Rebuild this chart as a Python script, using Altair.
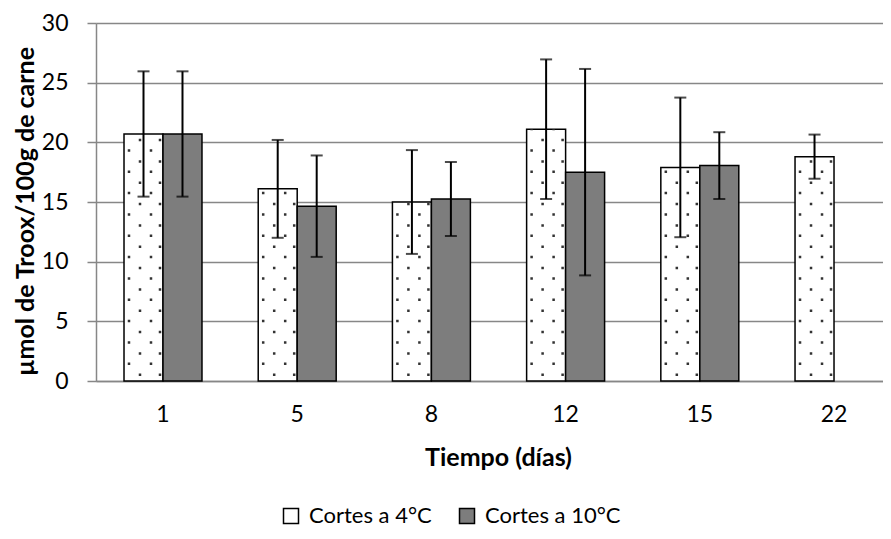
import altair as alt
import pandas as pd

days = ["1", "5", "8", "12", "15", "22"]
series = ["Cortes a 4°C", "Cortes a 10°C"]
mean_4 = [20.7, 16.1, 15.0, 21.1, 17.9, 18.8]
sd_4 = [5.25, 4.1, 4.35, 5.85, 5.85, 1.85]
mean_10 = [20.7, 14.65, 15.25, 17.5, 18.05, None]
sd_10 = [5.25, 4.25, 3.1, 8.65, 2.8, None]

rows = []
for d, m, s in zip(days, mean_4, sd_4):
    rows.append({"day": d, "serie": series[0], "v": m, "lo": m - s, "hi": m + s, "zero": 0})
for d, m, s in zip(days, mean_10, sd_10):
    if m is not None:
        rows.append({"day": d, "serie": series[1], "v": m, "lo": m - s, "hi": m + s, "zero": 0})
df = pd.DataFrame(rows)

FONT = "Lato"
GRID = "#878787"

x_enc = alt.X(
    "day:N", sort=days,
    scale=alt.Scale(paddingInner=0.419, paddingOuter=0.1416, align=0.737),
    axis=alt.Axis(
        title="Tiempo (días)", labelAngle=0, ticks=False, tickSize=0,
        labelPadding=22, labelFontSize=23, labelFont=FONT, labelColor="black",
        titleFont=FONT, titleFontSize=25, titleFontWeight="bold", titleColor="black",
        titleX=402, titleY=76, titleBaseline="middle",
        domainColor=GRID, domainWidth=1.5, grid=False,
    ),
)
xoff = alt.XOffset("serie:N", sort=series,
                   scale=alt.Scale(domain=series, paddingInner=0, paddingOuter=0))
y_scale = alt.Scale(domain=[0, 30], nice=False)

base = alt.Chart(df)

bars = base.mark_bar(stroke="black", strokeWidth=1.5).encode(
    x=x_enc,
    xOffset=xoff,
    y=alt.Y(
        "v:Q", scale=y_scale,
        axis=alt.Axis(
            title="µmol de Troox/100g de carne", values=[0, 5, 10, 15, 20, 25, 30],
            labelFontSize=23, labelFont=FONT, labelColor="black", labelPadding=19,
            tickSize=9, tickColor=GRID, tickWidth=1.5,
            domainColor=GRID, domainWidth=1.5,
            grid=True, gridColor=GRID, gridWidth=1.5,
            titleFont=FONT, titleFontSize=25, titleFontWeight="bold", titleColor="black",
            titleX=-71, titleY=188, titleBaseline="middle",
        ),
    ),
    fill=alt.Fill(
        "serie:N", sort=series,
        scale=alt.Scale(domain=series, range=["white", "#7d7d7d"]),
        legend=alt.Legend(
            orient="none", legendX=184, legendY=482, direction="horizontal",
            title=None, symbolType="square", symbolSize=225,
            symbolStrokeColor="black", symbolStrokeWidth=1.5,
            labelFont=FONT, labelFontSize=22, labelColor="black",
            labelOffset=7, columnPadding=24, padding=0,
        ),
    ),
)

# dotted texture of the 4°C bars
period = 21.33
dots = []
for dx, phase in [(-34, 5.33), (-12, 5.33), (-23, 16.33), (-3, 16.33)]:
    dots.append(
        base.transform_filter(alt.datum.serie == series[0]).mark_rule(
            xOffset=dx, strokeDash=[2.5, period - 2.5], strokeDashOffset=phase,
            strokeWidth=2.5, color="#333333", strokeCap="butt",
        ).encode(
            x=alt.X("day:N", sort=days),
            y=alt.Y("zero:Q", scale=y_scale),
            y2="v:Q",
        )
    )

err = base.mark_rule(color="black", strokeWidth=2).encode(
    x=alt.X("day:N", sort=days), xOffset=xoff,
    y=alt.Y("lo:Q", scale=y_scale), y2="hi:Q",
)
cap_hi = base.mark_tick(color="black", thickness=2, size=12).encode(
    x=alt.X("day:N", sort=days), xOffset=xoff, y=alt.Y("hi:Q", scale=y_scale),
)
cap_lo = base.mark_tick(color="black", thickness=2, size=12).encode(
    x=alt.X("day:N", sort=days), xOffset=xoff, y=alt.Y("lo:Q", scale=y_scale),
)

chart = alt.layer(bars, *dots, err, cap_hi, cap_lo).properties(
    width=787, height=358,
    autosize=alt.AutoSizeParams(type="none"),
    padding={"left": 88, "top": 15, "right": 0, "bottom": 150},
).configure_view(stroke=None).configure(font=FONT)

chart.save("out.html", embed_options={"renderer": "svg", "actions": False})
